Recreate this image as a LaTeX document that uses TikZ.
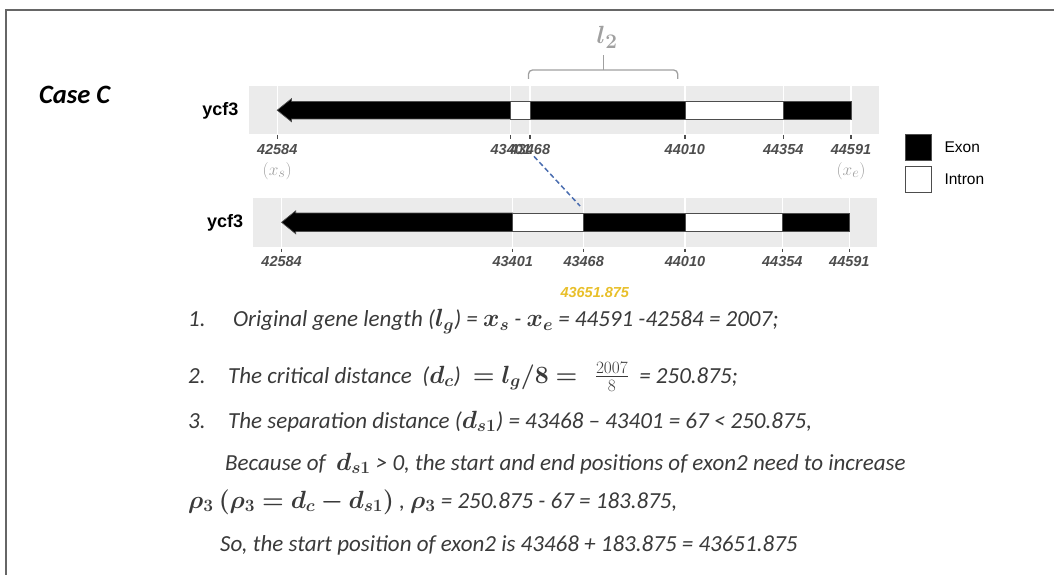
\documentclass[tikz,border=0pt]{standalone}
\usepackage{amsmath}
\usepackage{bm}
\usepackage{fontspec}
\setmainfont{Carlito}
\setsansfont{Liberation Sans}
\usetikzlibrary{positioning}

\definecolor{panelgrey}{HTML}{EBEBEB}
\definecolor{axisgrey}{HTML}{4D4D4D}
\definecolor{notegrey}{HTML}{A0A0A0}
\definecolor{framegrey}{HTML}{666666}
\definecolor{linkblue}{HTML}{4A6DB0}
\definecolor{shiftgold}{HTML}{E8BF2A}
\definecolor{bodytext}{HTML}{3A3A3A}

% bold math set a little larger than the text round it
\newcommand{\bmath}[1]{{\fontsize{25.5}{26}\selectfont$\bm{#1}$}}

\tikzset{
  panel/.style={fill=panelgrey, draw=none},
  gridline/.style={draw=white, line width=1.3pt},
  exon/.style={fill=black, draw=axisgrey, line width=0.7pt},
  intron/.style={fill=white, draw=axisgrey, line width=0.7pt},
  tickmark/.style={draw=axisgrey, line width=1.2pt},
  ticklabel/.style={font=\sffamily\bfseries\itshape\fontsize{14.5}{16}\selectfont,
    text=axisgrey, inner sep=0pt},
  genelabel/.style={font=\sffamily\bfseries\fontsize{18}{20}\selectfont,
    anchor=east, inner sep=0pt},
  endnote/.style={text=notegrey, font=\fontsize{19}{21}\selectfont, inner sep=0pt},
  steptext/.style={anchor=base west, inner sep=0pt, text=bodytext,
    font=\itshape\fontsize{23}{27}\selectfont},
  legendbox/.style={minimum size=26.5pt, inner sep=0pt, draw=axisgrey, line width=0.8pt},
  legendtext/.style={font=\sffamily\fontsize{15.5}{17}\selectfont, inner sep=0pt},
  linkdash/.style={draw=linkblue, dashed, dash pattern=on 5pt off 3pt, line width=1.5pt}
}

\begin{document}
\begin{tikzpicture}[x=1pt, y=-1pt]
  \useasboundingbox (0,0) rectangle (1054,575);
  \draw[framegrey, line width=2pt] (6,575) -- (6,10) -- (1054,10);

  \node[anchor=west, inner sep=0pt, font=\bfseries\itshape\fontsize{26.5}{29}\selectfont]
    (case) at (39,95) {Case C};

  % original gene (positions counted from 42584)
  \begin{scope}[xshift=277.2pt, x=0.2859pt]
    \fill[panel] (-100,86.2) rectangle (2105,134.2);
    \foreach \p in {0,817,884,1426,1770,2007}
      \draw[gridline] (\p,86.2) -- (\p,134.2);
    \draw[exon] (0,110.2) -- (50,98.7) -- (50,101.4) -- (817,101.4)
      -- (817,119) -- (50,119) -- (50,121.7) -- cycle;
    \foreach \a/\b/\kind in {817/884/intron,884/1426/exon,1426/1770/intron,1770/2007/exon}
      \draw[\kind] (\a,101.4) rectangle (\b,119);
    \foreach \p/\lab in {0/42584,817/43401,884/43468,1426/44010,1770/44354,2007/44591} {
      \draw[tickmark] (\p,135) -- (\p,139);
      \node[ticklabel] (top-\lab) at (\p,150) {\lab};
    }
    \node[endnote] (xs) at (0,171) {$(x_s)$};
    \node[endnote] (xe) at (2007,171) {$(x_e)$};
    \node[genelabel] (gene-top) at (-135,111) {ycf3};
  \end{scope}

  % shifted gene
  \begin{scope}[xshift=281.6pt, x=0.2829pt]
    \fill[panel] (-100,197.8) rectangle (2105,246.8);
    \foreach \p in {0,817,1067.875,1426,1770,2007}
      \draw[gridline] (\p,197.8) -- (\p,246.8);
    \draw[exon] (0,222.3) -- (50,210.8) -- (50,213) -- (817,213)
      -- (817,231.6) -- (50,231.6) -- (50,233.8) -- cycle;
    \foreach \a/\b/\kind in {817/1067.875/intron,1067.875/1426/exon,1426/1770/intron,1770/2007/exon}
      \draw[\kind] (\a,213) rectangle (\b,231.6);
    \foreach \p/\lab in {0/42584,817/43401,1067.875/43468,1426/44010,1770/44354,2007/44591} {
      \draw[tickmark] (\p,248.5) -- (\p,252);
      \node[ticklabel] (bot-\lab) at (\p,262) {\lab};
    }
    \node[ticklabel, text=shiftgold] (newstart) at (1107,293) {43651.875};
    \coordinate (shiftpt) at (1055,206);
    \node[genelabel] (gene-bot) at (-135,223) {ycf3};
  \end{scope}

  \draw[linkdash] ([xshift=4pt,yshift=-1pt]top-43468.south) -- (shiftpt);

  % l2 bracket
  \coordinate (brl) at (528.5,79);
  \coordinate (brr) at (677.7,79);
  \coordinate (brm) at (603.4,70);
  \draw[notegrey, line width=1.3pt, rounded corners=4pt] (brl) |- (brm) -| (brr);
  \draw[notegrey, line width=1.3pt] (brm) -- ++(0,-15);
  \node[text=notegrey, font=\fontsize{31}{32}\selectfont, inner sep=0pt] (ltwo) at (607,37)
    {$\bm{l_2}$};

  % legend
  \node[legendbox, fill=black] (exonkey) at (918.2,147.4) {};
  \node[legendbox, fill=white] (intronkey) at (918.2,179.2) {};
  \node[legendtext, right=12.5pt of exonkey] (exonname) {Exon};
  \node[legendtext, right=12.5pt of intronkey] (intronname) {Intron};

  % calculation
  \node[steptext] (num1) at (188,326.7) {1.};
  \node[steptext] (step1) at (233,326.7)
    {Original gene length (\bmath{l_g}) = \bmath{x_s} - \bmath{x_e} = 44591 -42584 = 2007;};
  \node[steptext] (num2) at (188,383) {2.};
  \node[steptext] (step2) at (228,383)
    {The critical distance\ \ (\bmath{d_c}) \bmath{{}= l_g/8 ={}}\ \ {\fontsize{25.5}{26}\selectfont$\frac{2007}{8}$}\ \ = 250.875;};
  \node[steptext] (num3) at (188,428) {3.};
  \node[steptext] (step3) at (228,428)
    {The separation distance (\bmath{d_{s1}}) = 43468 – 43401 = 67 < 250.875,};
  \node[steptext] (step4) at (225,470)
    {Because of\ \ \bmath{d_{s1}} > 0, the start and end positions of exon2 need to increase};
  \node[steptext] (step5) at (188,508)
    {\bmath{\rho_3} \bmath{(\rho_3 = d_c - d_{s1})} , \bmath{\rho_3} = 250.875 - 67 = 183.875,};
  \node[steptext] (step6) at (220,551.7)
    {So, the start position of exon2 is 43468 + 183.875 = 43651.875};
\end{tikzpicture}
\end{document}
